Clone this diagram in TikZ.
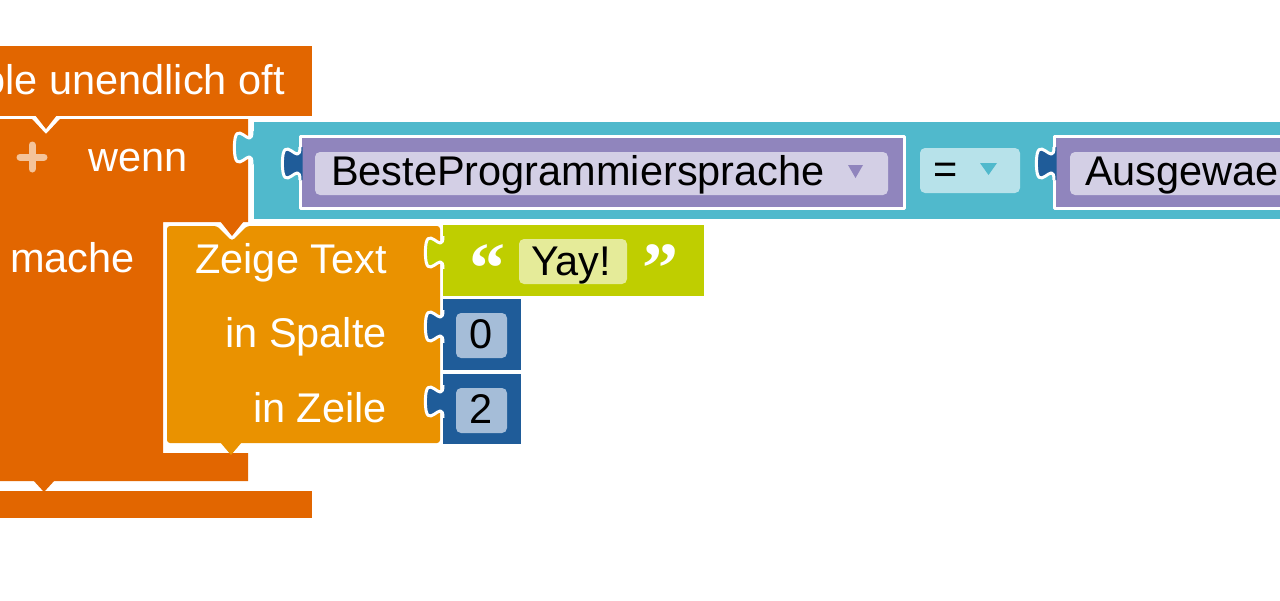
\documentclass[tikz,border=0pt]{standalone}
\usepackage{fontspec}
\setmainfont{Liberation Sans}
\newfontfamily\quotefont{Liberation Serif}
\definecolor{loopcol}{RGB}{226,102,0}
\definecolor{showcol}{RGB}{234,146,0}
\definecolor{logiccol}{RGB}{80,185,204}
\definecolor{varcol}{RGB}{144,133,189}
\definecolor{varfield}{RGB}{211,207,229}
\definecolor{mathcol}{RGB}{31,92,153}
\definecolor{mathfield}{RGB}{165,189,216}
\definecolor{textcol}{RGB}{191,206,0}
\definecolor{textfield}{RGB}{229,235,153}
\definecolor{opfield}{RGB}{183,226,234}
\definecolor{pluscol}{RGB}{244,196,155}
\tikzset{
  blocklabel/.style={text=white,font=\fontsize{41.5}{42}\selectfont,inner sep=0pt},
  fieldlabel/.style={text=black,font=\fontsize{41.5}{42}\selectfont,inner sep=0pt},
  quotemark/.style={text=white,font=\quotefont\bfseries\fontsize{72}{72}\selectfont,inner sep=0pt},
  blockedge/.style={draw=white,line width=3pt},
  fieldbox/.style={rounded corners=5pt},
  every picture/.style={line join=round}
}
% puzzle tab of an input block, hooked onto the left edge at (#2,#3)
\newcommand{\inputtab}[3]{%
  \fill[#1,shift={(#2,#3)}] (2.5,11) -- (0,11)
    .. controls (0,33) and (-17.6,-6.6) .. (-17.6,27.5)
    .. controls (-17.6,61.6) and (0,22) .. (0,44) -- (2.5,44) -- cycle;
  \draw[blockedge,shift={(#2,#3)}] (0,11)
    .. controls (0,33) and (-17.6,-6.6) .. (-17.6,27.5)
    .. controls (-17.6,61.6) and (0,22) .. (0,44);}

\begin{document}
\begin{tikzpicture}[x=1pt,y=-1pt]
  \useasboundingbox (0,0) rectangle (1280,600);
  \clip (0,0) rectangle (1280,600);
  \fill[white] (0,0) rectangle (1280,600);

  % if block (C shape)
  \fill[loopcol] (-10,119) -- (32,119) -- (46,134) -- (60,119) -- (248,119)
    -- (248,222) -- (163,222) -- (163,453) -- (248,453) -- (248,481)
    -- (-10,481) -- cycle;
  % loop block
  \fill[loopcol] (-10,46) rectangle (312,116);
  \fill[loopcol] (35,115) -- (46,129) -- (57,115) -- cycle;
  \fill[loopcol] (33,480) -- (44,492) -- (55,480) -- cycle;
  \fill[loopcol] (-10,491) rectangle (312,518);
  \node[blocklabel,anchor=base east] (looptitle) at (285,94) {ole unendlich oft};

  % if header
  \draw[pluscol,line width=7pt,line cap=round] (20,157) -- (44,157) (32,145) -- (32,169);
  \node[blocklabel,anchor=base west] (ifword) at (88,171) {wenn};
  \node[blocklabel,anchor=base west] (doword) at (10,272) {mache};

  % show text block
  \fill[loopcol] (220,221) -- (232,236) -- (244,221) -- cycle;
  \fill[showcol,rounded corners=3pt] (167,226) -- (217,226) -- (232,241) -- (247,226)
    -- (440,226) -- (440,443) -- (167,443) -- cycle;
  \fill[showcol] (220,442) -- (231,455) -- (242,442) -- cycle;
  \node[blocklabel,anchor=base east] (showword) at (387,273) {Zeige Text};
  \node[blocklabel,anchor=base east] (colword) at (387,347) {in Spalte};
  \node[blocklabel,anchor=base east] (rowword) at (387,422) {in Zeile};

  % compare block
  \filldraw[fill=logiccol,blockedge] (252,120) rectangle (1300,220);
  \inputtab{logiccol}{252}{120}
  \filldraw[fill=varcol,blockedge] (300,136) rectangle (904,208);
  \inputtab{mathcol}{300}{136}
  \fill[varfield,fieldbox] (315,152) rectangle (888,195);
  \node[fieldlabel,anchor=base west] (varleft) at (331,185) {BesteProgrammiersprache};
  \fill[varcol] (848,165) -- (863,165) -- (855.5,178) -- cycle;
  \fill[opfield,fieldbox] (920,148) rectangle (1020,193);
  \node[fieldlabel,anchor=base] (eqsign) at (946,183) {=};
  \fill[logiccol] (980,163) -- (997,163) -- (988.5,175) -- cycle;
  \filldraw[fill=varcol,blockedge] (1054,136) rectangle (1300,208);
  \inputtab{mathcol}{1054}{136}
  \fill[varfield,fieldbox] (1070,152) rectangle (1300,195);
  \node[fieldlabel,anchor=base west] (varright) at (1085,185) {Ausgewae};

  % text value
  \fill[textcol] (443,225) rectangle (704,296);
  \inputtab{textcol}{443}{225}
  \node[quotemark,anchor=base west] (openq) at (469,292) {“};
  \node[quotemark,anchor=base west] (closeq) at (642,292) {”};
  \fill[textfield,fieldbox] (519,239) rectangle (627,284);
  \node[fieldlabel,anchor=base west] (yaytext) at (531,275) {Yay!};

  % number values
  \fill[mathcol] (443,299) rectangle (521,370);
  \inputtab{mathcol}{443}{299}
  \fill[mathfield,fieldbox] (456,313) rectangle (507,358);
  \node[fieldlabel,anchor=base] (colnum) at (481.5,348) {0};
  \fill[mathcol] (443,374) rectangle (521,444);
  \inputtab{mathcol}{443}{374}
  \fill[mathfield,fieldbox] (456,388) rectangle (507,433);
  \node[fieldlabel,anchor=base] (rownum) at (481.5,423) {2};
\end{tikzpicture}
\end{document}
